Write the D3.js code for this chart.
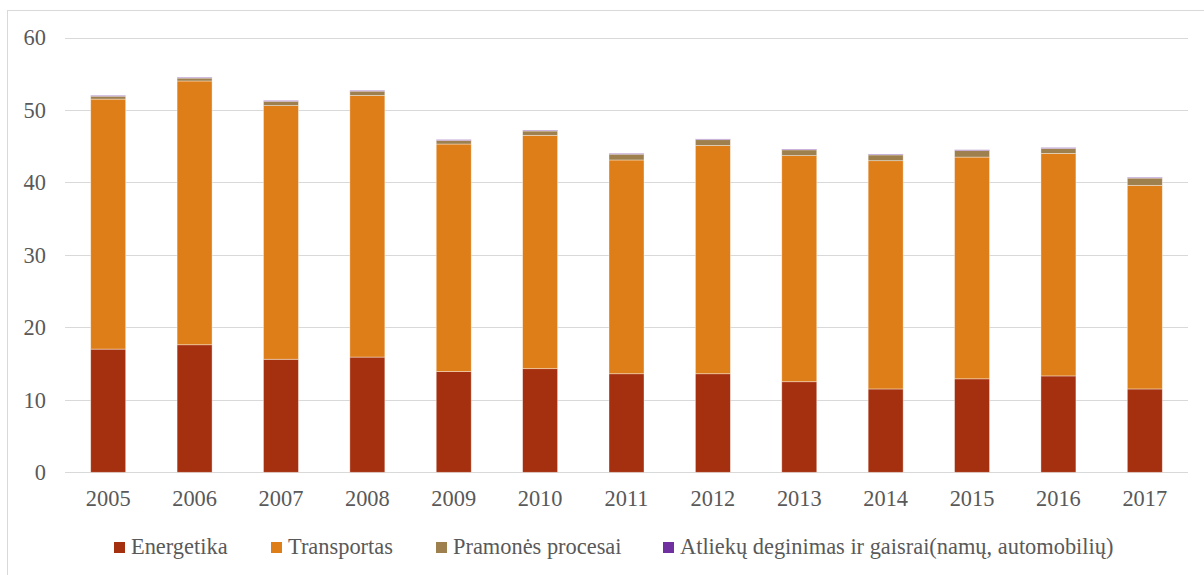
<!DOCTYPE html>
<html>
<head>
<meta charset="utf-8">
<script src="https://cdn.jsdelivr.net/npm/d3@7"></script>
<style>
  html, body { margin: 0; padding: 0; background: #fff; }
  svg { display: block; }
  svg text { font-family: "Liberation Serif", "Times New Roman", "DejaVu Serif", serif; }
</style>
</head>
<body>
<svg id="chart" width="1204" height="575"></svg>
<script>
const years = ["2005","2006","2007","2008","2009","2010","2011","2012","2013","2014","2015","2016","2017"];
const energetika = [17.0, 17.6, 15.6, 15.9, 13.9, 14.3, 13.6, 13.6, 12.5, 11.5, 12.9, 13.3, 11.5];
const transportas = [34.5, 36.4, 35.0, 36.1, 31.4, 32.2, 29.5, 31.5, 31.2, 31.5, 30.6, 30.7, 28.1];
const pramones = [0.4, 0.4, 0.6, 0.6, 0.5, 0.6, 0.8, 0.8, 0.8, 0.8, 0.9, 0.7, 1.0];
const atlieku = [0.1, 0.1, 0.1, 0.1, 0.1, 0.1, 0.1, 0.1, 0.1, 0.1, 0.1, 0.1, 0.1];
const seriesNames = ["Energetika", "Transportas", "Pramonės procesai", "Atliekų deginimas ir gaisrai(namų, automobilių)"];
const seriesColors = ["#A5300F", "#DE7E18", "#9E7F4E", "#7030A0"];
const yTicks = [0, 10, 20, 30, 40, 50, 60];

(function () {
const svg = d3.select("#chart");
const pLeft = 65, pRight = 1188, pTop = 37.5, pBottom = 472.3;
const font = '"Liberation Serif", "Times New Roman", "DejaVu Serif", serif';
const fs = "22.4px";

// frame
svg.append("rect").attr("x", 7.5).attr("y", 10.5).attr("width", 1210).attr("height", 600)
  .attr("fill", "none").attr("stroke", "#d9d9d9").attr("stroke-width", 1);

const keys = ["e","t","p","a"];
const table = years.map((yr, i) => ({year: yr, e: energetika[i], t: transportas[i], p: pramones[i], a: atlieku[i]}));
const stacked = d3.stack().keys(keys)(table);

const x = d3.scaleBand().domain(years).range([pLeft, pRight]).paddingInner(0.595).paddingOuter(0.2975);
const y = d3.scaleLinear().domain([0, 60]).range([pBottom, pTop]);

// gridlines
svg.append("g").selectAll("line").data(yTicks).join("line")
  .attr("x1", pLeft).attr("x2", pRight)
  .attr("y1", d => Math.round(y(d)) + 0.5).attr("y2", d => Math.round(y(d)) + 0.5)
  .attr("stroke", "#d9d9d9").attr("stroke-width", 1);

// y labels
const yAxis = d3.axisLeft(y).tickValues(yTicks).tickSize(0).tickPadding(0).tickFormat(d3.format("d"));
const yg = svg.append("g").attr("transform", `translate(46,0)`).call(yAxis)
  .attr("font-family", null).attr("font-size", null);
yg.select(".domain").remove();
yg.selectAll("text").style("font-family", font).style("font-size", fs).attr("fill", "#595959");

// bars
svg.append("g").selectAll("g").data(stacked).join("g")
  .attr("fill", (d, i) => seriesColors[i])
  .selectAll("rect").data(d => d).join("rect")
  .attr("x", d => x(d.data.year))
  .attr("width", x.bandwidth())
  .attr("y", d => y(d[1]))
  .attr("height", d => Math.max(0, y(d[0]) - y(d[1])))
  .attr("stroke", "#ffffff").attr("stroke-opacity", 0.5).attr("stroke-width", 0.75);

// x labels
const xAxis = d3.axisBottom(x).tickSize(0).tickPadding(0);
const xg = svg.append("g").attr("transform", `translate(0,${pBottom})`).call(xAxis)
  .attr("font-family", null).attr("font-size", null);
xg.select(".domain").remove();
xg.selectAll("text").style("font-family", font).style("font-size", fs).attr("fill", "#595959")
  .attr("dy", null).attr("y", 34);

// legend
const legX = [114, 271, 436, 663];
const lg = svg.append("g");
seriesNames.forEach((name, i) => {
  lg.append("rect").attr("x", legX[i]).attr("y", 542).attr("width", 11).attr("height", 11).attr("fill", seriesColors[i]);
  lg.append("text").attr("x", legX[i] + 17).attr("y", 553.5).text(name)
    .style("font-family", font).style("font-size", fs).attr("fill", "#595959");
});
})();
</script>
</body>
</html>
